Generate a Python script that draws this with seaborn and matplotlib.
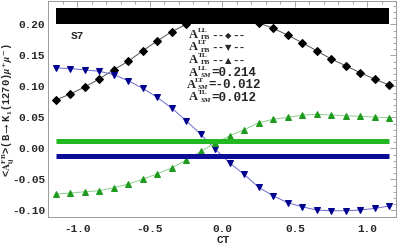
import numpy as np
import pandas as pd
import matplotlib
matplotlib.use("Agg")
import matplotlib.pyplot as plt
import seaborn as sns

# ---- data ----
ct = [-1.15, -1.05, -0.95, -0.85, -0.75, -0.65, -0.55, -0.45, -0.35, -0.25, -0.15, -0.05,
      0.05, 0.15, 0.25, 0.35, 0.45, 0.55, 0.65, 0.75, 0.85, 0.95, 1.05, 1.15]
a_ll = [0.0779, 0.0876, 0.0989, 0.1118, 0.1268, 0.1403, 0.1574, 0.1731, 0.1881, 0.2000, 0.2080, 0.2120,
        0.2115, 0.2080, 0.2026, 0.1935, 0.1827, 0.1703, 0.1574, 0.1440, 0.1332, 0.1219, 0.1118, 0.1021]
a_lt = [0.1297, 0.1286, 0.1265, 0.1243, 0.1190, 0.1090, 0.0968, 0.0823, 0.0650, 0.0445, 0.0228, -0.0013,
        -0.0236, -0.0420, -0.0629, -0.0765, -0.0877, -0.0942, -0.0995, -0.1006, -0.1006, -0.0995, -0.0968, -0.0930]
a_tl = [-0.0737, -0.0721, -0.0700, -0.0684, -0.0635, -0.0576, -0.0500, -0.0410, -0.0318, -0.0187, -0.0050, 0.0080,
        0.0204, 0.0300, 0.0413, 0.0468, 0.0500, 0.0537, 0.0548, 0.0537, 0.0526, 0.0516, 0.0505, 0.0494]
sm_ll = 0.214
sm_lt = -0.012
sm_tl = 0.012

xticks = [-1.0, -0.5, 0.0, 0.5, 1.0]
yticks = [-0.10, -0.05, 0.00, 0.05, 0.10, 0.15, 0.20]

legend_sup = ["LL", "LT", "TL", "LL", "LT", "TL"]
legend_sub = ["FB", "FB", "FB", "SM", "SM", "SM"]
legend_sym = ["◆", "▼", "▲", None, None, None]
legend_val = [None, None, None, "=0.214", "=-0.012", "=0.012"]

sns.set_style("white")
plt.rcParams['font.family'] = ['Liberation Mono', 'DejaVu Sans']
plt.rcParams['font.weight'] = 'bold'
plt.rcParams['mathtext.fontset'] = 'stix'

df = pd.DataFrame({"CT": ct, "LL": a_ll, "LT": a_lt, "TL": a_tl})

fig = plt.figure(figsize=(4.0, 2.48), dpi=100)
ax = fig.add_axes([0.12, 0.126, 0.871, 0.870])

sns.lineplot(data=df, x="CT", y="LL", ax=ax, color="#555555", lw=0.7, marker="D",
             markersize=4.2, markerfacecolor="black", markeredgecolor="black", zorder=2)
sns.lineplot(data=df, x="CT", y="LT", ax=ax, color="#6a6acc", lw=0.7, marker="v",
             markersize=5, markerfacecolor="#00008f", markeredgecolor="#00008f", zorder=2)
sns.lineplot(data=df, x="CT", y="TL", ax=ax, color="#8fce8f", lw=0.7, marker="^",
             markersize=5, markerfacecolor="#1f9a1f", markeredgecolor="#1f9a1f", zorder=2)

xr = [ct[0], ct[-1]]
ax.plot(xr, [sm_ll] * 2, color="black", lw=11.5, solid_capstyle="butt", zorder=3)
ax.plot(xr, [sm_tl] * 2, color="#22b822", lw=3.6, solid_capstyle="butt", zorder=3)
ax.plot(xr, [sm_lt] * 2, color="#0c0c96", lw=3.6, solid_capstyle="butt", zorder=3)

ax.set_xlim(-1.203, 1.176)
ax.set_ylim(-0.1103, 0.2376)
ax.set_xticks(xticks)
ax.set_xticklabels([f"{v:.1f}" for v in xticks])
ax.set_yticks(yticks)
ax.set_yticklabels([f"{v:.2f}" for v in yticks])
ax.set_xticks(np.arange(-1.2, 1.21, 0.1), minor=True)
ax.set_yticks(np.arange(-0.11, 0.24, 0.01), minor=True)
ax.tick_params(which="both", direction="in", top=True, right=True, color="#999999",
               labelsize=8, width=0.6)
ax.tick_params(which="major", length=4)
ax.tick_params(which="minor", length=2)
ax.tick_params(axis="y", pad=2)
ax.tick_params(axis="x", pad=5)
for s in ax.spines.values():
    s.set_color("#999999")
    s.set_linewidth(0.7)
ax.set_xlabel("")
ax.set_ylabel("")

fig.text(223 / 400, 1 - 240 / 248, "CT", ha="center", va="center", fontsize=8, fontweight="bold")
fig.text(8.5 / 400, 1 - 110 / 248,
         r"<$\mathbf{A}_{\mathbf{ij}}^{\mathbf{FB}}$>(B$\mathbf{\rightarrow}$K$_{\mathbf{1}}$(1270)$\mu^{+}\mu^{-}$)",
         rotation=90, ha="center", va="center", fontsize=7.5, fontweight="bold")
fig.text(77 / 400, 1 - 36 / 248, "S7", ha="center", va="center", fontsize=8, fontweight="bold")


def fx(px):
    return px / 400


def fy(pyy):
    return 1 - pyy / 248


ys = [35, 47.5, 60, 72.5, 85, 97.5]
x0s = [189, 189, 189, 189, 186.5, 189]
for sup, sub, sym, val, py, x0 in zip(legend_sup, legend_sub, legend_sym, legend_val, ys, x0s):
    fig.text(fx(x0), fy(py), "A", ha="left", va="center", fontsize=9,
             fontweight="bold", family="Liberation Serif")
    fig.text(fx(x0 + 8.8), fy(py - 4.5), sup, ha="left", va="center", fontsize=5.2,
             fontweight="bold", family="Liberation Serif")
    fig.text(fx(x0 + 11.5), fy(py + 2.8), sub, ha="left", va="center", fontsize=5.2,
             fontweight="bold", family="Liberation Serif",
             style="italic" if sub == "SM" else "normal")
    if val is not None:
        fig.text(fx(x0 + 22), fy(py + 0.5), val, ha="left", va="center", fontsize=9,
                 fontweight="bold", family=['Liberation Mono', 'DejaVu Sans'])
    else:
        fig.text(fx(x0 + 22), fy(py + 0.5), "--", ha="left", va="center", fontsize=8,
                 fontweight="bold", family=['Liberation Mono', 'DejaVu Sans'])
        fig.text(fx(x0 + 39), fy(py + 0.5), sym, ha="center", va="center", fontsize=6,
                 fontweight="bold", family=['DejaVu Sans'])
        fig.text(fx(x0 + 43), fy(py + 0.5), "--", ha="left", va="center", fontsize=8,
                 fontweight="bold", family=['Liberation Mono', 'DejaVu Sans'])

fig.savefig("out.png", dpi=100)
